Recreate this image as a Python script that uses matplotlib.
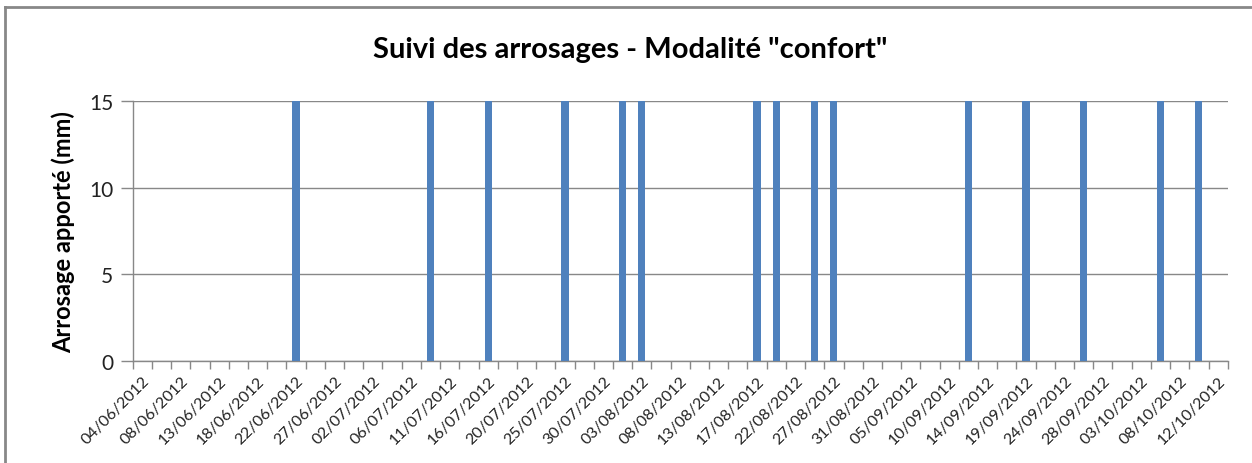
import matplotlib.pyplot as plt
import numpy as np
from matplotlib.lines import Line2D

# watering dates (Mon / Wed / Fri), 2012
dates = [
    "04/06/2012", "06/06/2012", "08/06/2012", "11/06/2012", "13/06/2012",
    "15/06/2012", "18/06/2012", "20/06/2012", "22/06/2012", "25/06/2012",
    "27/06/2012", "29/06/2012", "02/07/2012", "04/07/2012", "06/07/2012",
    "09/07/2012", "11/07/2012", "13/07/2012", "16/07/2012", "18/07/2012",
    "20/07/2012", "23/07/2012", "25/07/2012", "27/07/2012", "30/07/2012",
    "01/08/2012", "03/08/2012", "06/08/2012", "08/08/2012", "10/08/2012",
    "13/08/2012", "15/08/2012", "17/08/2012", "20/08/2012", "22/08/2012",
    "24/08/2012", "27/08/2012", "29/08/2012", "31/08/2012", "03/09/2012",
    "05/09/2012", "07/09/2012", "10/09/2012", "12/09/2012", "14/09/2012",
    "17/09/2012", "19/09/2012", "21/09/2012", "24/09/2012", "26/09/2012",
    "28/09/2012", "01/10/2012", "03/10/2012", "05/10/2012", "08/10/2012",
    "10/10/2012", "12/10/2012",
]

# dates with 15 mm irrigation
watered = [
    "22/06/2012", "09/07/2012", "16/07/2012", "25/07/2012", "01/08/2012",
    "03/08/2012", "17/08/2012", "20/08/2012", "24/08/2012", "27/08/2012",
    "12/09/2012", "19/09/2012", "26/09/2012", "05/10/2012", "10/10/2012",
]
dose = 15

values = [dose if d in watered else 0 for d in dates]

plt.rcParams["font.family"] = ["Lato", "DejaVu Sans"]

fig = plt.figure(figsize=(12.52, 4.64), dpi=100)
ax = fig.add_axes([0.106, 0.2205, 0.8746, 0.559])

x = np.arange(len(dates))
ax.bar(x, values, width=0.37, color="#4F81BD", zorder=3)

ax.set_xlim(-0.5, len(dates) - 0.5)
ax.set_ylim(0, 15)
ax.set_yticks([0, 5, 10, 15])
ax.yaxis.grid(True, color="#888888", linewidth=1.0, zorder=0)

ax.set_xticks(x[::2])
ax.set_xticklabels(dates[::2], rotation=45, ha="right", rotation_mode="anchor",
                   fontsize=11.5, color="#222222")
ax.set_xticks(np.arange(len(dates) + 1) - 0.5, minor=True)
ax.tick_params(axis="x", which="major", length=0, pad=9)
ax.tick_params(axis="x", which="minor", length=6, color="#888888", width=1.0)
ax.tick_params(axis="y", length=9, color="#888888", width=1.0, labelsize=15,
               labelcolor="#222222", pad=5)

for side in ["top", "right"]:
    ax.spines[side].set_visible(False)
for side in ["left", "bottom"]:
    ax.spines[side].set_color("#888888")
    ax.spines[side].set_linewidth(1.0)

ax.set_ylabel("Arrosage apporté (mm)", fontsize=17, fontweight="bold", labelpad=10)

fig.text(630 / 1252, 1 - 50 / 464, 'Suivi des arrosages - Modalité "confort"',
         ha="center", va="center", fontsize=21, fontweight="bold")

# outer chart frame
fig.add_artist(Line2D([5 / 1252, 1.0], [1 - 8 / 464, 1 - 8 / 464],
                      transform=fig.transFigure, color="#888888", linewidth=2))
fig.add_artist(Line2D([5 / 1252, 5 / 1252], [0.0, 1 - 8 / 464],
                      transform=fig.transFigure, color="#888888", linewidth=2))

fig.savefig("out.png", dpi=100)
